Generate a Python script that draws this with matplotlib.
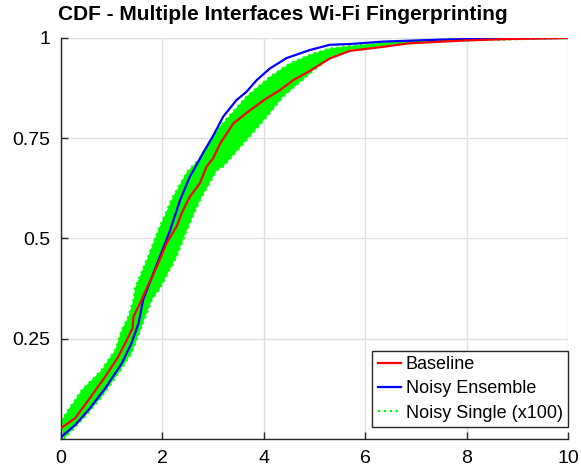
import numpy as np
import matplotlib
matplotlib.use('Agg')
import matplotlib.pyplot as plt

plt.rcParams['font.family'] = ['Liberation Sans', 'DejaVu Sans']

# Baseline CDF (red)
base_x = [0, 0.28, 0.54, 0.87, 1.13, 1.33, 1.41, 1.43, 1.59, 1.69, 1.89, 2.08, 2.28,
          2.38, 2.54, 2.74, 2.87, 3.0, 3.14, 3.4, 3.73, 4.06, 4.32, 4.58, 4.91, 5.3,
          5.7, 6.35, 6.88, 8.0, 9.0, 10.0]
base_y = [0.027, 0.052, 0.097, 0.155, 0.205, 0.255, 0.276, 0.305, 0.347, 0.376, 0.43,
          0.488, 0.53, 0.563, 0.604, 0.638, 0.679, 0.70, 0.737, 0.787, 0.82, 0.85,
          0.87, 0.895, 0.918, 0.949, 0.968, 0.978, 0.987, 0.994, 0.998, 1.0]

# Noisy ensemble CDF (blue)
ens_x = [0, 0.01, 0.28, 0.54, 0.87, 1.2, 1.39, 1.53, 1.62, 1.72, 1.95, 2.15, 2.35,
         2.54, 2.64, 2.8, 3.0, 3.2, 3.46, 3.66, 3.86, 4.12, 4.45, 4.91, 5.3, 5.7,
         6.35, 7.5, 8.5, 10.0]
ens_y = [0.0, 0.006, 0.035, 0.072, 0.126, 0.189, 0.239, 0.289, 0.347, 0.38, 0.455,
         0.52, 0.596, 0.654, 0.676, 0.713, 0.756, 0.804, 0.845, 0.866, 0.895, 0.924,
         0.95, 0.97, 0.983, 0.985, 0.991, 0.996, 0.999, 1.0]

# Noisy single runs (x100): upper and lower edges of the green band
single_hi_x = [0, 0.41, 0.8, 1.07, 1.2, 1.33, 1.43, 1.46, 1.69, 1.95, 2.21, 2.48,
               2.74, 3.14, 3.66, 4.12, 4.52, 4.91, 5.3, 5.7, 6.5, 8.0, 10.0]
single_hi_y = [0.045, 0.122, 0.172, 0.222, 0.272, 0.305, 0.347, 0.376, 0.446, 0.53,
               0.604, 0.665, 0.70, 0.78, 0.854, 0.903, 0.937, 0.958, 0.974, 0.98,
               0.99, 0.998, 1.0]
single_lo_x = [0.05, 0.47, 0.8, 1.13, 1.39, 1.59, 1.79, 1.95, 2.28, 2.48, 2.74, 3.07,
               3.2, 3.66, 4.06, 4.38, 4.91, 5.3, 5.7, 6.35, 7.0, 8.0, 10.0]
single_lo_y = [0.0, 0.056, 0.105, 0.164, 0.214, 0.28, 0.347, 0.376, 0.455, 0.521,
               0.596, 0.67, 0.68, 0.746, 0.804, 0.854, 0.912, 0.952, 0.97, 0.98,
               0.988, 0.994, 1.0]

x_ticks = [0, 2, 4, 6, 8, 10]
y_ticks = [0.25, 0.5, 0.75, 1]
y_tick_labels = ['0.25', '0.5', '0.75', '1']

fig = plt.figure(figsize=(5.81, 4.73), dpi=100)
ax = fig.add_axes([61/581, 34/473, 507/581, 401/473])

green = '#00FF00'
band_x = np.concatenate([single_hi_x, single_lo_x[::-1]])
band_y = np.concatenate([single_hi_y, single_lo_y[::-1]])
ax.fill(band_x, band_y, color=green, lw=0, zorder=2)
ax.plot(single_hi_x, single_hi_y, ':', color=green, lw=1.6, zorder=2)
ax.plot(single_lo_x, single_lo_y, ':', color=green, lw=1.6, zorder=2)

ax.plot(base_x, base_y, color='#FF0000', lw=1.6, zorder=4, label='Baseline')
ax.plot(ens_x, ens_y, color='#0000FF', lw=1.6, zorder=3, label='Noisy Ensemble')
ax.plot([], [], ':', color=green, lw=1.6, label='Noisy Single (x100)')

ax.set_xlim(0, 10)
ax.set_ylim(0, 1)
ax.set_xticks(x_ticks)
ax.set_xticklabels([str(t) for t in x_ticks])
ax.set_yticks(y_ticks)
ax.set_yticklabels(y_tick_labels)
ax.tick_params(direction='in', length=5, width=1, color='#262626',
               labelsize=14, pad=8, labelcolor='black')
ax.grid(True, color='#DFDFDF', lw=1)
ax.set_axisbelow(True)
for s in ['top', 'right']:
    ax.spines[s].set_visible(False)
for s in ['left', 'bottom']:
    ax.spines[s].set_color('#262626')
    ax.spines[s].set_linewidth(1)

leg = ax.legend(loc='lower right', bbox_to_anchor=(1.0, 0.03), borderaxespad=0,
                fontsize=13, fancybox=False, framealpha=1, edgecolor='#262626',
                handlelength=1.3, handletextpad=0.25, borderpad=0.3, labelspacing=0.4)
leg.get_frame().set_linewidth(1)

fig.text(283/581, 1 - 15/473, 'CDF - Multiple Interfaces Wi-Fi Fingerprinting',
         ha='center', va='center', fontsize=15, fontweight='bold')

fig.savefig('out.png', dpi=100)
